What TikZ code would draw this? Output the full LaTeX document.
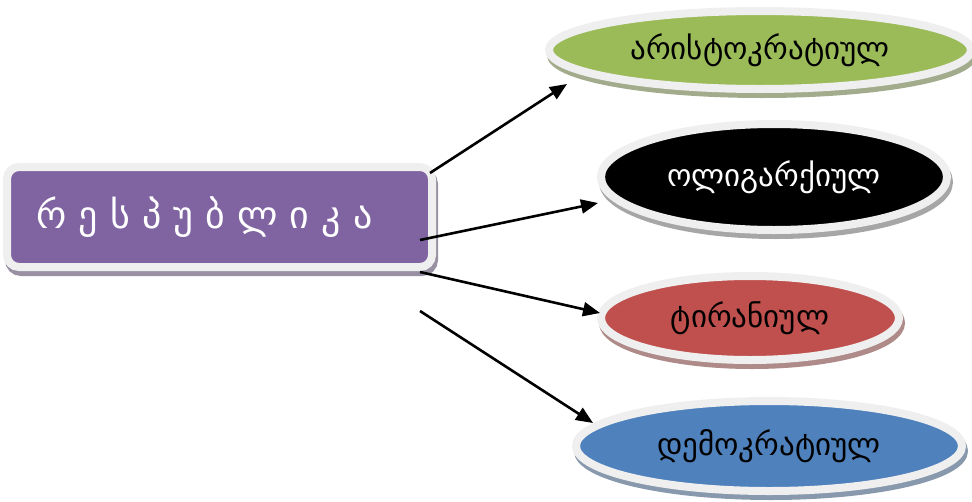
\documentclass[tikz,border=0pt]{standalone}
\usepackage{fontspec}
\newfontfamily\geo[Script=Georgian]{DejaVu Sans}
\usetikzlibrary{arrows.meta,shapes.geometric}
\definecolor{rim}{HTML}{EFEFEF}
\definecolor{cgreen}{HTML}{9BBB59}
\definecolor{cred}{HTML}{C0504D}
\definecolor{cblue}{HTML}{4F81BD}
\definecolor{cpurple}{HTML}{8064A2}
\begin{document}
\begin{tikzpicture}[x=1pt,y=-1pt,
  shad/.style={preaction={draw=#1, fill=#1, line width=8pt, transform canvas={xshift=2pt,yshift=-5pt}}},
  oval/.style={ellipse, inner sep=0pt, draw=rim, line width=8pt, font=\geo\fontsize{31}{36}\selectfont},
  conn/.style={-{Triangle[length=17pt,width=14pt]}, line width=2.6pt}]
\useasboundingbox (0,0) rectangle (972,501);
% box
\node[shad=cpurple!35!gray!80, draw=rim, line width=8pt, fill=cpurple, rounded corners=12pt,
      minimum width=425pt, minimum height=100pt, inner sep=0pt, text=white,
      font=\geo\fontsize{38}{44}\selectfont] (rep) at (219.5,217) {რ ე ს პ უ ბ ლ ი კ ა\hspace*{30pt}};
% ellipses
\node[oval, shad=cgreen!40!gray!80, fill=cgreen, minimum width=422pt, minimum height=78pt] (ar) at (760,50) {არისტოკრატიულ};
\node[oval, shad=gray!70, fill=black, text=white, minimum width=346pt, minimum height=106pt] (ol) at (774,177) {ოლიგარქიულ};
\node[oval, shad=cred!40!gray!80, fill=cred, minimum width=298pt, minimum height=84pt] (ti) at (750,318) {ტირანიულ};
\node[oval, shad=cblue!40!gray!80, fill=cblue, minimum width=386pt, minimum height=90pt] (de) at (769,446) {დემოკრატიულ};
% connector end points
\coordinate (s1) at (430,173);
\coordinate (s2) at (420,240);
\coordinate (s3) at (420,272);
\coordinate (s4) at (420,311);
\coordinate (t1) at (567,84);
\coordinate (t2) at (598,203);
\coordinate (t3) at (600,313);
\coordinate (t4) at (593,423);
\draw[conn] (s1) -- (t1);
\draw[conn] (s2) -- (t2);
\draw[conn] (s3) -- (t3);
\draw[conn] (s4) -- (t4);
\end{tikzpicture}
\end{document}
